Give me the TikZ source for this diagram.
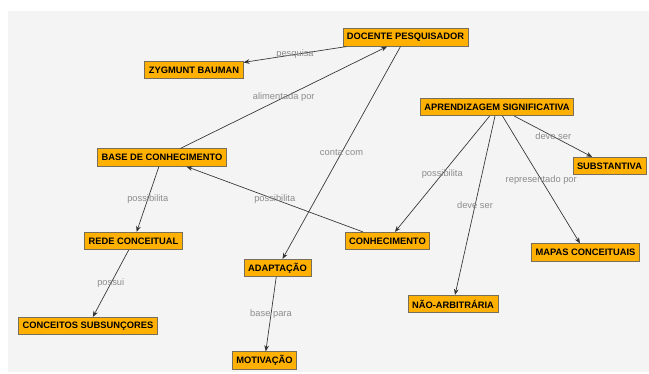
\documentclass[tikz,border=0pt]{standalone}
\usepackage{fontspec}
\setmainfont{Liberation Sans}
\usetikzlibrary{arrows.meta}
\definecolor{conceptfill}{RGB}{255,176,0}
\definecolor{conceptline}{RGB}{120,110,90}
\definecolor{mapback}{RGB}{244,244,244}
\definecolor{linkgray}{RGB}{140,140,140}

\begin{document}
\begin{tikzpicture}[x=0.75pt,y=-0.75pt]
    \tikzset{
        concept/.style={draw=conceptline, fill=conceptfill, line width=0.6pt,
            font=\fontsize{7}{8}\selectfont\bfseries, inner xsep=3pt, inner ysep=0pt,
            minimum height=13pt},
        link/.style={draw=black!80, line width=0.5pt, -{Stealth[length=4.5pt,width=3.5pt]}},
        linklabel/.style={font=\fontsize{7}{8}\selectfont, text=linkgray, inner sep=0pt}
    }
    \useasboundingbox (0,0) rectangle (649,374);
    \fill[mapback] (8,11) rectangle (649,372);

    \node[concept] (docente) at (405.5,37.5) {DOCENTE PESQUISADOR};
    \node[concept] (bauman) at (194,70) {ZYGMUNT BAUMAN};
    \node[concept] (aprendizagem) at (497,107) {APRENDIZAGEM SIGNIFICATIVA};
    \node[concept] (base) at (162,157.5) {BASE DE CONHECIMENTO};
    \node[concept] (substantiva) at (609.5,166) {SUBSTANTIVA};
    \node[concept] (rede) at (133.5,241) {REDE CONCEITUAL};
    \node[concept] (conhecimento) at (387.5,241) {CONHECIMENTO};
    \node[concept] (mapas) at (585.5,252.5) {MAPAS CONCEITUAIS};
    \node[concept] (adaptacao) at (277.5,268) {ADAPTAÇÃO};
    \node[concept] (naoarb) at (453,304) {NÃO-ARBITRÁRIA};
    \node[concept] (subsuncores) at (88,326) {CONCEITOS SUBSUNÇORES};
    \node[concept] (motivacao) at (264.5,360.5) {MOTIVAÇÃO};

    \draw[link] (docente) -- node[linklabel] {pesquisa} (bauman);
    \draw[link] (base) -- node[linklabel] {alimentada por} (docente);
    \draw[link] (docente) -- node[linklabel] {conta com} (adaptacao);
    \draw[link] (conhecimento) -- node[linklabel] {possibilita} (base);
    \draw[link] (base) -- node[linklabel] {possibilita} (rede);
    \draw[link] (rede) -- node[linklabel] {possui} (subsuncores);
    \draw[link] (adaptacao) -- node[linklabel] {base para} (motivacao);
    \draw[link] (aprendizagem) -- node[linklabel] {possibilita} (conhecimento);
    \draw[link] (aprendizagem) -- node[linklabel] {deve ser} (naoarb);
    \draw[link] (aprendizagem) -- node[linklabel] {representado por} (mapas);
    \draw[link] (aprendizagem) -- node[linklabel] {deve ser} (substantiva);
\end{tikzpicture}
\end{document}
